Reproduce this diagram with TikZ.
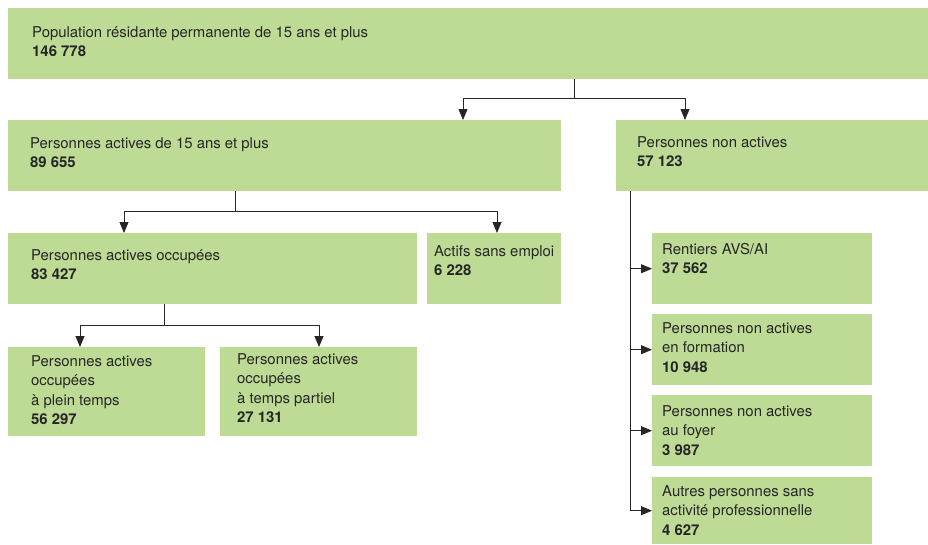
\documentclass[tikz,border=0pt]{standalone}
\usepackage{fontspec}
\setmainfont{TeX Gyre Heros}
\usetikzlibrary{arrows.meta}
\definecolor{boxgreen}{HTML}{BEDB96}
\tikzset{
	panel/.style={fill=boxgreen, draw=none, inner sep=0, anchor=north west},
	lbl/.style={anchor=base west, inner sep=0, align=left, text=black!85,
		font=\fontsize{14.9}{19.5}\selectfont},
	link/.style={draw=black!85, line width=0.9pt},
	arr/.style={link, -{Triangle[width=9pt,length=11pt]}}
}

\begin{document}
\begin{tikzpicture}[x=1pt, y=-1pt]
			%%%%% START %%%%%
			\useasboundingbox (0,0) rectangle (928,544);
			
			% boxes
			\node[panel, minimum width=920pt, minimum height=71pt] (pop) at (8,8) {};
			\node[panel, minimum width=553pt, minimum height=71pt] (act) at (8,120) {};
			\node[panel, minimum width=312pt, minimum height=71pt] (nonact) at (616,120) {};
			\node[panel, minimum width=409pt, minimum height=71pt] (occ) at (8,233) {};
			\node[panel, minimum width=134pt, minimum height=71pt] (sans) at (427,233) {};
			\node[panel, minimum width=197pt, minimum height=89pt] (plein) at (8,347) {};
			\node[panel, minimum width=197pt, minimum height=89pt] (partiel) at (220,347) {};
			\node[panel, minimum width=220pt, minimum height=71pt] (rent) at (652,233) {};
			\node[panel, minimum width=220pt, minimum height=71pt] (form) at (652,314) {};
			\node[panel, minimum width=220pt, minimum height=71pt] (foyer) at (652,395) {};
			\node[panel, minimum width=220pt, minimum height=67pt] (autres) at (652,477) {};
			
			% labels (anchored at the baseline of the last line)
			\node[lbl] (popL) at (32,56.5) {Population résidante permanente de 15 ans et plus\\\textbf{146 778}};
			\node[lbl] (actL) at (30,167.5) {Personnes actives de 15 ans et plus\\\textbf{89 655}};
			\node[lbl] (nonactL) at (637,166.5) {Personnes non actives\\\textbf{57 123}};
			\node[lbl] (occL) at (31,279.5) {Personnes actives occupées\\\textbf{83 427}};
			\node[lbl] (sansL) at (434,275.5) {Actifs sans emploi\\\textbf{6 228}};
			\node[lbl] (pleinL) at (31,424.5) {Personnes actives\\occupées\\à plein temps\\\textbf{56 297}};
			\node[lbl] (partielL) at (237,422.5) {Personnes actives\\occupées\\à temps partiel\\\textbf{27 131}};
			\node[lbl] (rentL) at (662,273.5) {Rentiers AVS/AI\\\textbf{37 562}};
			\node[lbl] (formL) at (662,372) {Personnes non actives\\en formation\\\textbf{10 948}};
			\node[lbl] (foyerL) at (662,455) {Personnes non actives\\au foyer\\\textbf{3 987}};
			\node[lbl] (autresL) at (662,535) {Autres personnes sans\\activité professionnelle\\\textbf{4 627}};
			
			% connectors
			\coordinate (popJ) at (574,98);
			\draw[link] (pop.south -| popJ) -- (popJ);
			\draw[arr] (popJ) -| (act.north -| 463,0);
			\draw[arr] (popJ) -| (nonact.north -| 685,0);
			
			\coordinate (actJ) at (235,211);
			\draw[link] (act.south -| actJ) -- (actJ);
			\draw[arr] (actJ) -| (occ.north -| 124,0);
			\draw[arr] (actJ) -| (sans.north -| 497,0);
			
			\coordinate (occJ) at (164,325);
			\draw[link] (occ.south -| occJ) -- (occJ);
			\draw[arr] (occJ) -| (plein.north -| 80,0);
			\draw[arr] (occJ) -| (partiel.north -| 319,0);
			
			\coordinate (nonJ) at (630,0);
			\draw[link] (nonact.south -| nonJ) -- (autres.west -| nonJ);
			\foreach \n in {rent,form,foyer,autres}
				\draw[arr] (\n.west -| nonJ) -- (\n.west);
			
			%%%%% END %%%%%
\end{tikzpicture}
\end{document}
